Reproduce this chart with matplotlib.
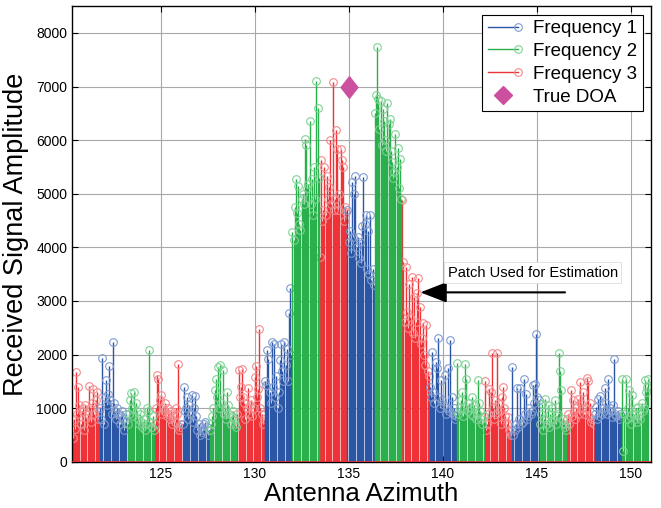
import numpy as np
import matplotlib
matplotlib.use("Agg")
import matplotlib.pyplot as plt
from matplotlib.lines import Line2D
from matplotlib.legend_handler import HandlerLine2D

plt.rcParams['font.family'] = ['Liberation Sans', 'DejaVu Sans']

# Antenna azimuth sampling: 21 patches, alternating frequency 3 / 1 / 2
az_start = 120.26
patch_width = 1.4625
n_per_patch = 24
patch_order = [3, 1, 2] * 7

# Received amplitude per patch, one list per frequency (left to right)
freq1_patches = [
    [1000, 800, 1930, 700, 1200, 1520, 1050, 1270, 1780, 1150, 900, 2230,
     1100, 950, 800, 1000, 900, 700, 850, 950, 800, 600, 750, 900],
    [700, 1390, 950, 1000, 1210, 800, 1050, 900, 1240, 750, 1000, 1230,
     850, 600, 700, 500, 650, 550, 600, 700, 750, 650, 500, 600],
    [1500, 1430, 2080, 1920, 1300, 1100, 2230, 1400, 2200, 1200, 1600, 1000,
     1300, 1900, 2200, 1700, 1500, 2230, 1800, 2100, 1500, 2770, 3250, 2000],
    [4690, 4100, 4300, 3900, 5220, 4200, 5000, 5340, 4000, 4200, 3800, 4100,
     3700, 4400, 5310, 4440, 4600, 3600, 4310, 3500, 4600, 3400, 3600, 3300],
    [1400, 1200, 2050, 1300, 1100, 1860, 1740, 2300, 1200, 1000, 1520, 1150,
     1050, 1620, 900, 1000, 1740, 950, 2280, 1210, 900, 1000, 800, 850],
    [1770, 500, 600, 700, 1380, 650, 800, 1380, 700, 750, 1550, 900,
     1270, 800, 850, 1000, 900, 950, 1430, 1100, 1460, 2390, 1200, 1150],
    [900, 1025, 800, 1180, 850, 1230, 900, 1000, 950, 1370, 1100, 900,
     1550, 1000, 950, 840, 1050, 1925, 900, 850, 950, 800, 900, 850],
]
freq2_patches = [
    [700, 900, 1150, 1280, 1000, 850, 1310, 1100, 950, 800, 700, 900,
     750, 650, 800, 600, 700, 1000, 950, 2090, 750, 650, 850, 600],
    [600, 700, 850, 1000, 1330, 1550, 1200, 1770, 1000, 1810, 1100, 1710,
     900, 1000, 800, 1300, 1050, 900, 700, 850, 950, 800, 700, 650],
    [4280, 4130, 4750, 5280, 4640, 5150, 4440, 4320, 4900, 5000, 4800, 6020,
     5900, 5100, 5180, 6360, 4800, 5280, 4600, 5500, 4900, 7100, 6590, 5300],
    [6510, 6850, 7730, 6760, 6200, 6730, 5900, 6580, 6360, 6000, 5800, 6700,
     6300, 6400, 5800, 5600, 5300, 5400, 6110, 5500, 5860, 5100, 5640, 4900],
    [1840, 900, 1000, 1150, 1300, 850, 1000, 1830, 1550, 950, 1100, 1000,
     900, 1200, 850, 1050, 800, 900, 1530, 1100, 950, 800, 700, 850],
    [700, 900, 1075, 600, 800, 1180, 700, 1060, 650, 900, 750, 1000,
     800, 1150, 700, 850, 900, 2020, 1690, 1335, 800, 700, 650, 600],
    [1550, 200, 900, 1550, 800, 1000, 1335, 850, 700, 1240, 900, 800,
     1000, 750, 1025, 900, 800, 1100, 950, 1000, 1520, 1300, 1400, 1550],
]
freq3_patches = [
    [450, 800, 620, 1680, 900, 1400, 1050, 700, 950, 1000, 600, 1050,
     820, 900, 1420, 1000, 750, 1100, 1350, 900, 1150, 1300, 800, 950],
    [700, 1000, 1610, 1540, 1150, 1240, 900, 1000, 950, 1100, 850, 1000,
     900, 800, 950, 700, 850, 750, 1000, 900, 1820, 600, 650, 700],
    [900, 1710, 1200, 1390, 1730, 1210, 1100, 800, 1000, 1380, 900, 1050,
     1150, 850, 1000, 1580, 1780, 1200, 1350, 2480, 1000, 900, 700, 800],
    [3820, 5620, 4500, 4700, 5490, 4600, 5340, 4900, 5120, 6000, 4800, 7080,
     4700, 4900, 6190, 5840, 4700, 5000, 5840, 5630, 5490, 4500, 4750, 4650],
    [4890, 3730, 2600, 3630, 2800, 2500, 3320, 2700, 3450, 2400, 3080, 2300,
     2600, 3140, 3420, 2890, 2200, 2300, 2580, 2000, 1800, 2550, 1700, 1600],
    [1500, 600, 700, 900, 1350, 1300, 2030, 1000, 800, 1150, 900, 2030,
     1100, 950, 700, 1200, 1400, 1000, 850, 700, 840, 600, 550, 500],
    [800, 900, 700, 1335, 850, 1150, 950, 800, 1000, 1180, 900, 1490,
     1100, 1000, 1300, 900, 1000, 1570, 1500, 850, 1090, 750, 800, 700],
]

true_doa = (135, 7000)

colors = {1: '#2A56A5', 2: '#29AF4B', 3: '#EE3237'}
light = {1: '#7F9CD0', 2: '#7ED394', 3: '#F58A8D'}
doa_color = '#CD50A0'

fig = plt.figure(figsize=(6.61, 5.08), dpi=100)
ax = fig.add_axes([0.109, 0.091, 0.876, 0.897])

# collect samples per frequency
data = {1: freq1_patches, 2: freq2_patches, 3: freq3_patches}
count = {1: 0, 2: 0, 3: 0}
xs = {1: [], 2: [], 3: []}
ys = {1: [], 2: [], 3: []}
step = patch_width / n_per_patch
for k, f in enumerate(patch_order):
    vals = data[f][count[f]]
    count[f] += 1
    x0 = az_start + k * patch_width
    xs[f].extend(x0 + (np.arange(len(vals)) + 0.5) * step)
    ys[f].extend(vals)

for f in [3, 1, 2]:
    ml, sl, bl = ax.stem(xs[f], ys[f], linefmt='-', markerfmt='o', basefmt=' ')
    sl.set_color(colors[f])
    sl.set_linewidth(1.0)
    ml.set_markerfacecolor('none')
    ml.set_markeredgecolor(light[f])
    ml.set_markersize(5.5)
    ml.set_markeredgewidth(0.8)

ax.axhline(0, color=colors[3], lw=1.2, zorder=3)

diamond = [(0, 1), (0.78, 0), (0, -1), (-0.78, 0), (0, 1)]
ax.plot(*true_doa, marker=diamond, markersize=15.5, color=doa_color,
        linestyle='none', zorder=5)

# arrow and note
ax.annotate('', xy=(138.8, 3160), xytext=(146.5, 3160),
            arrowprops=dict(arrowstyle='-|>,head_length=0.9,head_width=0.35',
                            color='black', lw=1.5, mutation_scale=18,
                            shrinkA=0, shrinkB=0))
ax.text(140.25, 3530, 'Patch Used for Estimation', fontsize=10.5,
        va='center', ha='left',
        bbox=dict(boxstyle='square,pad=0.25', fc='white', ec='#DDDDDD', lw=0.6))

ax.set_xlim(120.26, 151.08)
ax.set_ylim(0, 8500)
ax.set_xticks([125, 130, 135, 140, 145, 150])
ax.set_yticks(range(0, 8001, 1000))
ax.grid(True, color='#A8A8A8', lw=0.8)
ax.set_axisbelow(True)
ax.tick_params(direction='in', top=True, right=True, length=4, labelsize=10)
for s in ax.spines.values():
    s.set_linewidth(1.0)

ax.set_xlabel('Antenna Azimuth', fontsize=18.5, labelpad=1)
ax.set_ylabel('Received Signal Amplitude', fontsize=19.5, labelpad=5)


class EndMarker(HandlerLine2D):
    def create_artists(self, *args, **kwargs):
        arts = super().create_artists(*args, **kwargs)
        for a in arts:
            a.set_markevery([2])
        return arts


handles = []
for f in [1, 2, 3]:
    handles.append(Line2D([], [], color=colors[f], lw=1.0, marker='o',
                          markersize=5.5, markerfacecolor='none',
                          markeredgecolor=light[f], markeredgewidth=0.8))
doa_handle = Line2D([], [], color=doa_color, marker='D', markersize=9.5,
                    linestyle='none')
handles.append(doa_handle)
hmap = {h: EndMarker() for h in handles[:3]}
leg = ax.legend(handles, ['Frequency 1', 'Frequency 2', 'Frequency 3', 'True DOA'],
                loc='upper right', fontsize=13.5, handler_map=hmap,
                handlelength=1.6, handletextpad=0.8, labelspacing=0.3,
                borderaxespad=0.45, fancybox=False, framealpha=1,
                edgecolor='black', borderpad=0.3, numpoints=1)
leg.get_frame().set_linewidth(0.8)

fig.savefig('out.png', dpi=100)
